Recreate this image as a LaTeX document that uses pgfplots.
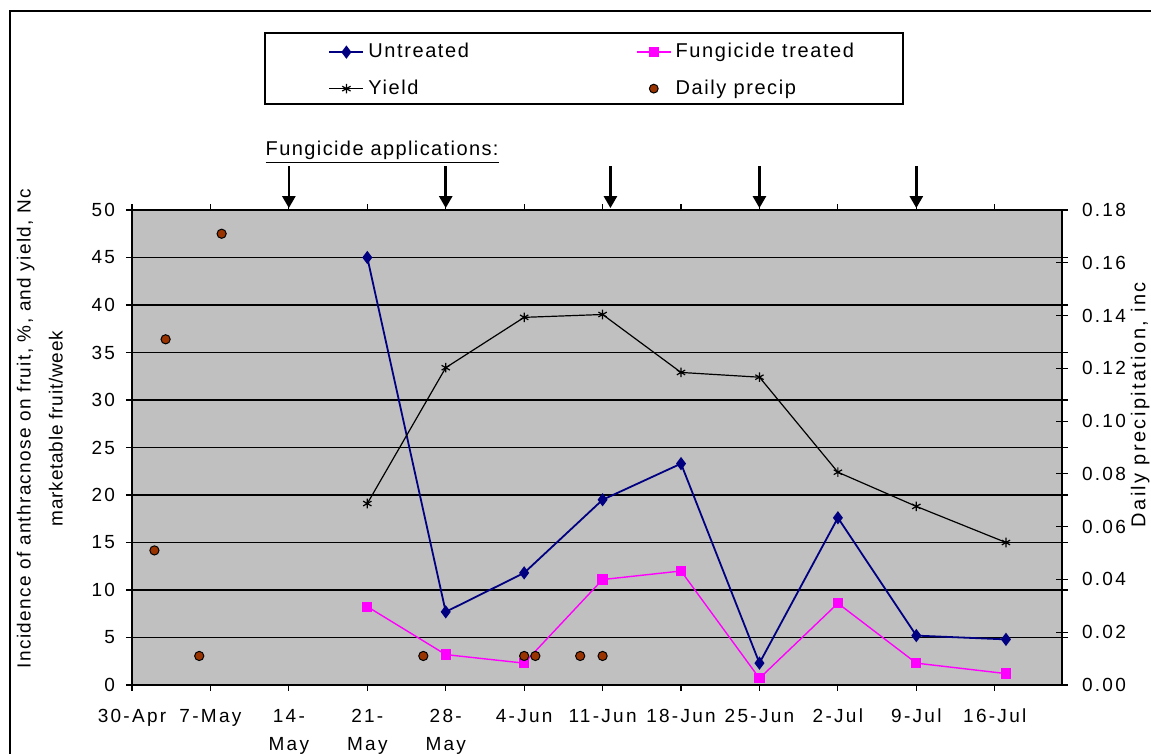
\documentclass[border=0pt]{standalone}
\usepackage{fontspec}
\setmainfont{Liberation Sans}
\newfontfamily\tickfont{Liberation Sans}[LetterSpace=12]
\newfontfamily\legfont{Liberation Sans}[LetterSpace=8]
\newfontfamily\notefont{Liberation Sans}[LetterSpace=7]
\newfontfamily\labfont{Liberation Sans}[LetterSpace=7]
\newfontfamily\labfontb{Liberation Sans}[LetterSpace=4]
\newfontfamily\rlabfont{Liberation Sans}[LetterSpace=12]
\usepackage{pgfplots}
\pgfplotsset{compat=1.18}
\usetikzlibrary{arrows.meta}

\definecolor{plotgray}{RGB}{192,192,192}
\definecolor{untreated}{RGB}{0,0,128}
\definecolor{treated}{RGB}{255,0,255}
\definecolor{precip}{RGB}{153,51,0}

\begin{document}
\begin{tikzpicture}
\useasboundingbox (0,0) rectangle (575.5pt,377pt);
% outer chart frame (right and bottom run off the page)
\draw[line width=0.8pt] (5pt,-5pt) -- (5pt,371.5pt) -- (590pt,371.5pt);
% legend frame
\draw[line width=0.7pt, fill=white] (132.5pt,360.5pt) rectangle (451.5pt,325pt);

\begin{axis}[
  at={(66pt,34.5pt)}, anchor=south west,
  width=465pt, height=237.5pt, scale only axis,
  xmin=0, xmax=83, ymin=0, ymax=50,
  axis background/.style={fill=plotgray},
  xtick={0,7,...,77},
  xticklabels={30-Apr,7-May,{14-\\May},{21-\\May},{28-\\May},4-Jun,11-Jun,18-Jun,25-Jun,2-Jul,9-Jul,16-Jul},
  xticklabel style={align=center, yshift=-5.5pt},
  yticklabel style={xshift=-2pt},
  ytick={0,5,...,50},
  ymajorgrids, grid style={black, line width=0.7pt},
  tick align=outside, major tick length=3pt,
  axis line style={line width=0.7pt},
  tick style={black, line width=0.6pt},
  ticklabel style={font=\tickfont\fontsize{9.5}{14}\selectfont},
  /pgf/number format/assume math mode=true,
  ylabel={{\labfont Incidence of anthracnose on fruit, \%, and yield, Nc}\\{\labfontb marketable fruit/week}},
  ylabel style={align=center, font=\fontsize{9.5}{16}\selectfont,
    at={(axis description cs:-0.099,0.54)}, anchor=center},
  clip=false,
  legend columns=2,
  legend cell align=left,
  legend style={at={(0.2108,1.36)}, anchor=north west, draw=none,
    fill=none, font=\legfont\fontsize{10}{12}\selectfont,
    inner sep=0pt, row sep=5.5pt,
    /tikz/every even column/.append style={column sep=81.5pt}},
]
\addplot[untreated, line width=0.9pt, mark=diamond*, mark size=2.6pt,
  mark options={solid, fill=untreated}]
  coordinates {(21,45) (28,7.7) (35,11.8) (42,19.5) (49,23.3) (56,2.3) (63,17.6) (70,5.2) (78,4.8)};
\addlegendentry{Untreated}
\addplot[treated, line width=0.7pt, mark=square*, mark size=2.2pt,
  mark options={solid, fill=treated}]
  coordinates {(21,8.25) (28,3.2) (35,2.3) (42,11.1) (49,12.0) (56,0.7) (63,8.6) (70,2.3) (78,1.2)};
\addlegendentry{Fungicide treated}
\addplot[black, line width=0.6pt, mark=asterisk, mark size=2.4pt,
  mark options={solid}]
  coordinates {(21,19.1) (28,33.4) (35,38.7) (42,39.0) (49,32.9) (56,32.4) (63,22.4) (70,18.8) (78,15.0)};
\addlegendentry{Yield}
\addlegendimage{only marks, mark=*, mark size=2.2pt, mark options={fill=precip, draw=black, line width=0.5pt}}
\addlegendentry{Daily precip}

% fungicide application dates
\node[anchor=west, inner sep=0pt, font=\notefont\fontsize{10}{12}\selectfont]
  at (axis cs:11.9,56.1) {\underline{Fungicide applications:}};
\pgfplotsinvokeforeach{14,28,42.7,56,70}{
  \draw[line width=1.3pt, -{Triangle[length=6pt,width=6.5pt]}]
    (axis cs:#1,54.6) -- (axis cs:#1,50.2);
}
\end{axis}

\begin{axis}[
  at={(66pt,34.5pt)}, anchor=south west,
  width=465pt, height=237.5pt, scale only axis,
  xmin=0, xmax=83, ymin=0, ymax=0.18,
  axis y line*=right, axis x line=none,
  ytick={0,0.02,0.04,0.06,0.08,0.10,0.12,0.14,0.16,0.18},
  scaled y ticks=false,
  yticklabel style={/pgf/number format/fixed, /pgf/number format/fixed zerofill,
    /pgf/number format/precision=2, xshift=3.5pt},
  /pgf/number format/assume math mode=true,
  tick align=center, major tick length=6pt,
  axis line style={line width=0.7pt},
  tick style={black, line width=0.6pt},
  ticklabel style={font=\tickfont\fontsize{9.5}{11}\selectfont},
  ylabel={Daily precipitation, inc},
  ylabel style={font=\rlabfont\fontsize{10}{12}\selectfont,
    at={(axis description cs:1.084,0.59)}, anchor=center},
]
\addplot[only marks, mark=*, mark size=2.3pt,
  mark options={fill=precip, draw=black, line width=0.5pt}]
  coordinates {(2,0.051) (3,0.131) (6,0.011) (8,0.171) (26,0.011) (35,0.011) (36,0.011) (40,0.011) (42,0.011)};
\end{axis}
\end{tikzpicture}
\end{document}
